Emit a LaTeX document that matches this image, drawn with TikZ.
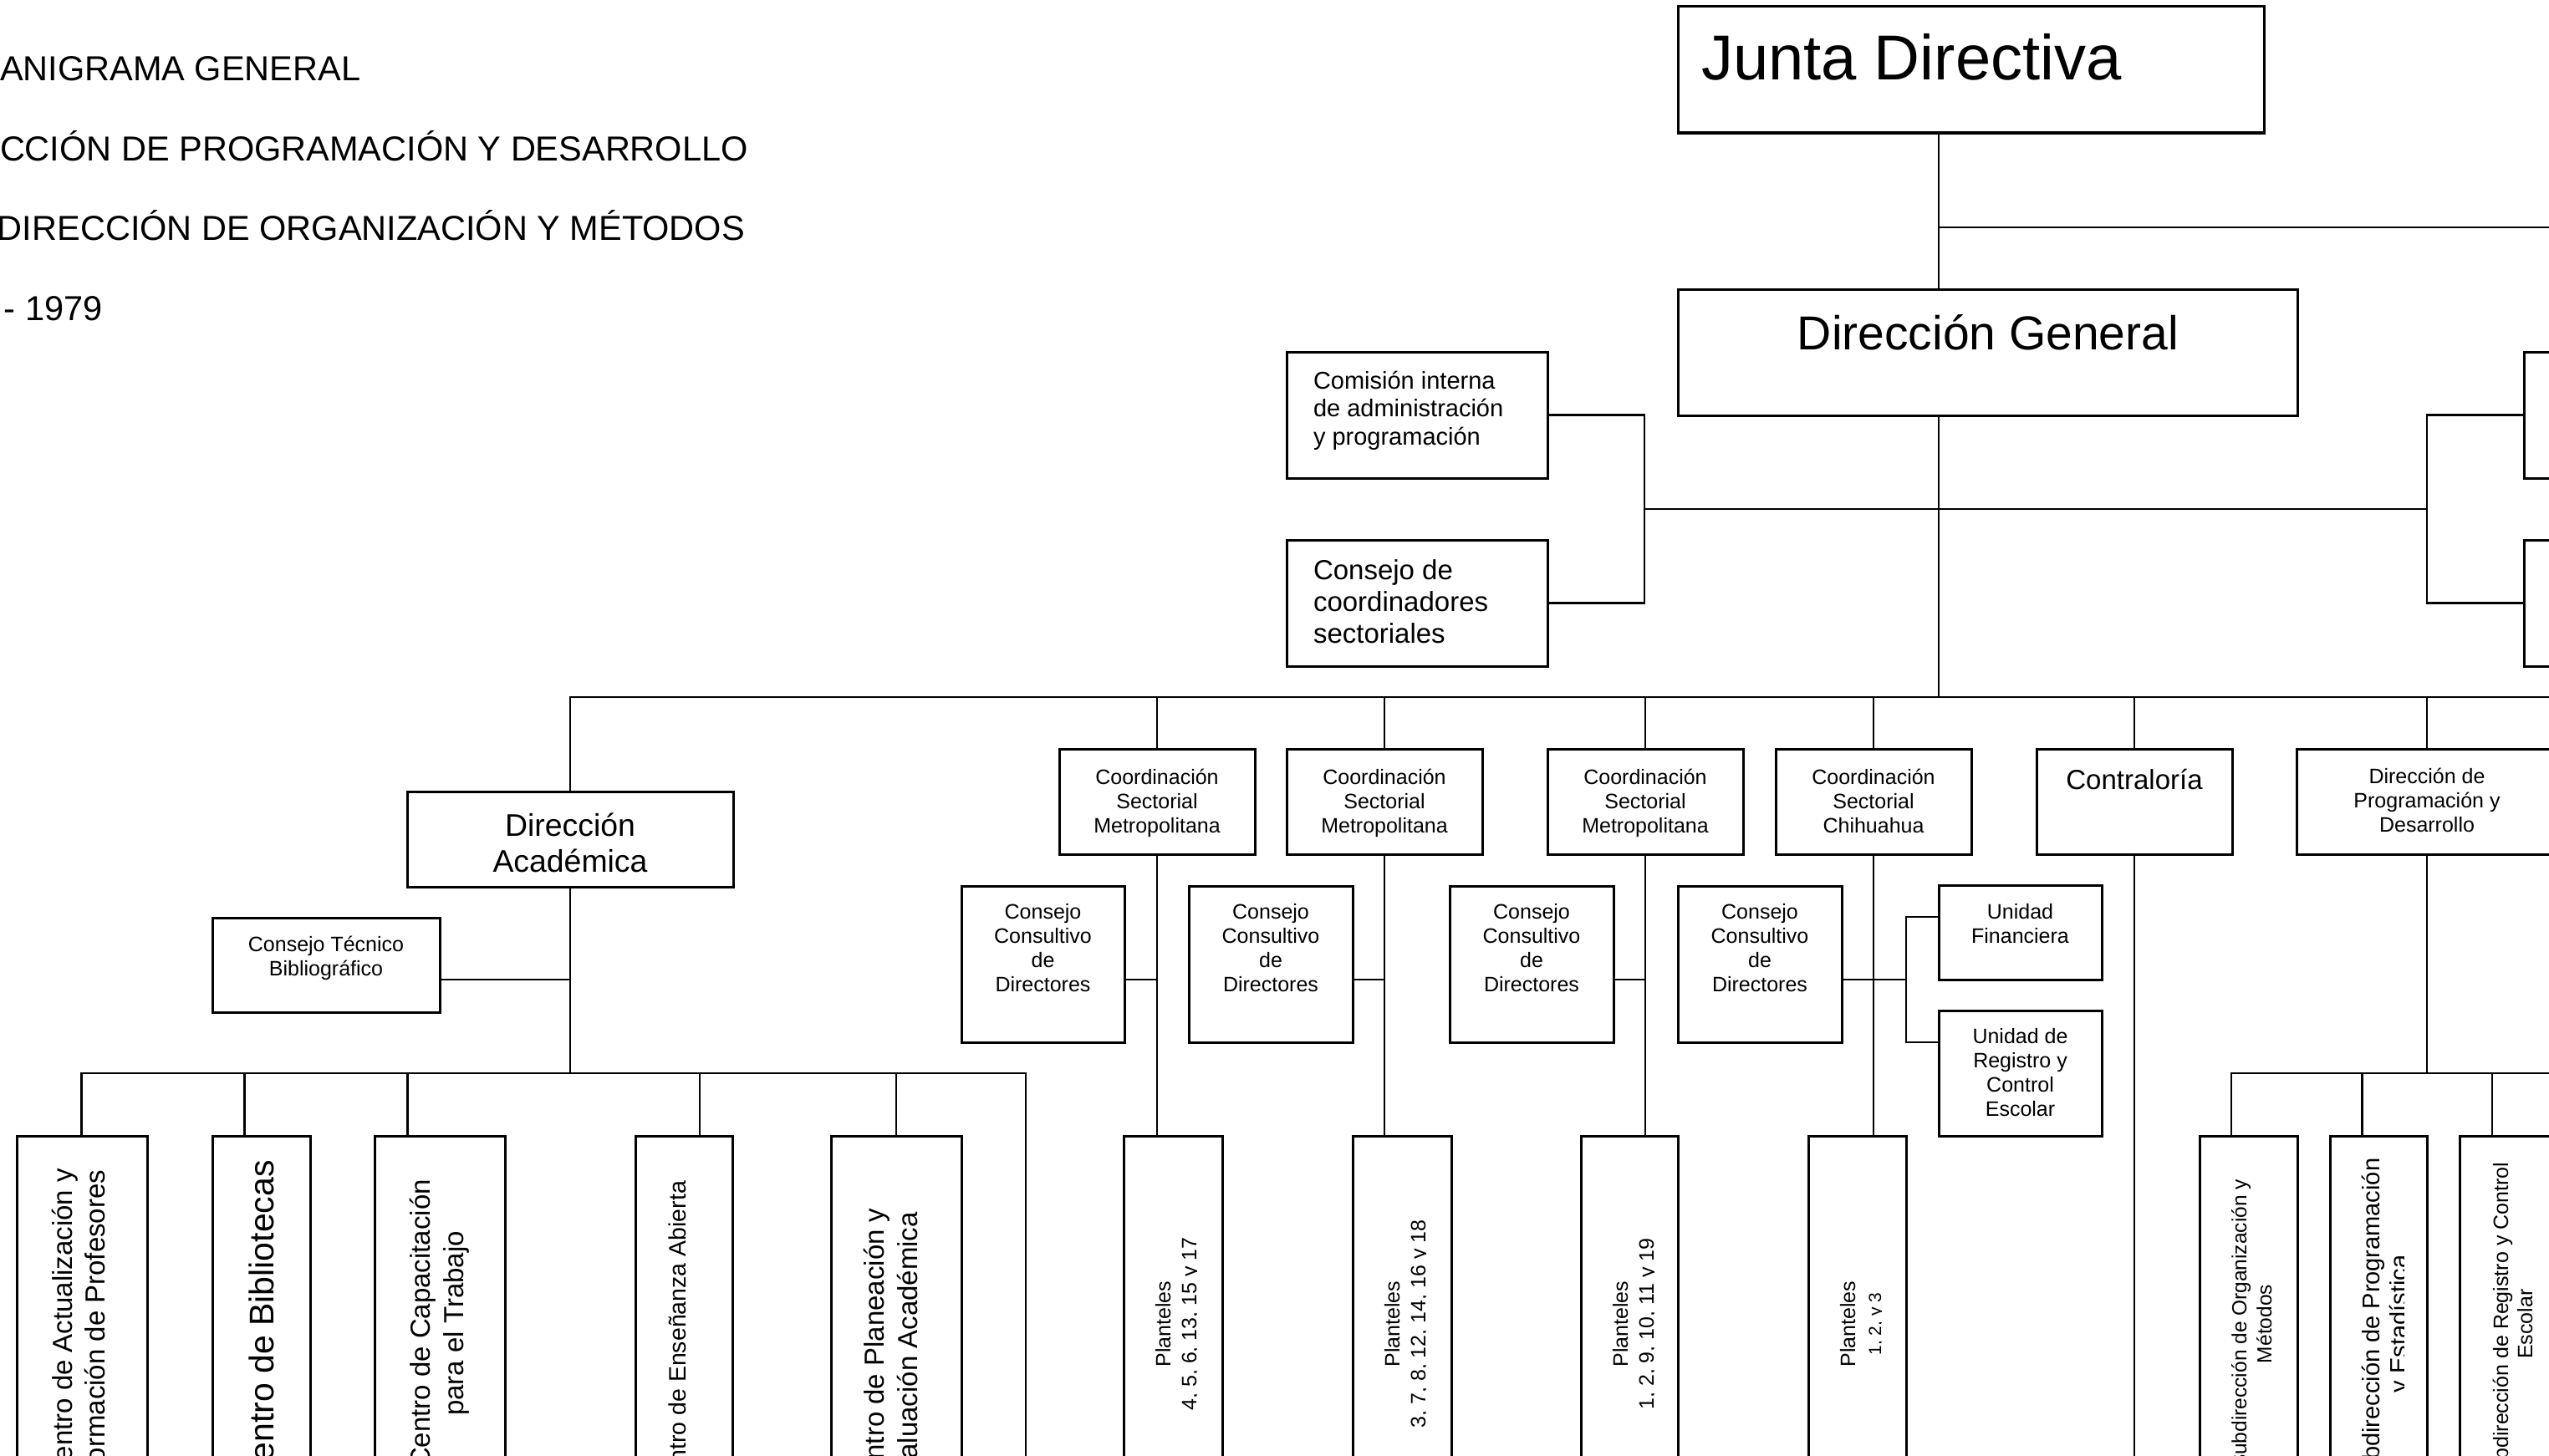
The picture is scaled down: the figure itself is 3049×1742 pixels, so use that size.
\documentclass[tikz,border=0pt]{standalone}
\usepackage{fontspec}
\setmainfont{Liberation Sans}
\usetikzlibrary{calc}
% font size / baseline skip in one go
\newcommand\fsz[2]{\fontsize{#1}{#2}\selectfont}
% centred and left-aligned line stacks whose baseline is the first line's
\newcommand\cstack[1]{\vtop{\halign{\hfil##\hfil\cr#1\crcr}}}
\newcommand\lstack[1]{\vtop{\halign{##\hfil\cr#1\crcr}}}
% \orgbox{name}{x1}{y1}{x2}{y2}: an empty framed box between two corners
\newcommand\orgbox[5]{\node[box, minimum width={#4-#2}, minimum height={#5-#3}] (#1) at ({(#2+#4)/2},{(#3+#5)/2}) {};}

\begin{document}
\begin{tikzpicture}[x=1pt,y=-1pt,
  box/.style={draw, line width=3pt, inner sep=0pt, outer sep=0pt},
  conn/.style={line width=2.7pt, line cap=rect},
  tx/.style={inner sep=0pt, outer sep=0pt},
  vtx/.style={tx, rotate=90, anchor=base},
]
\useasboundingbox (0,0) rectangle (3049,1742);
\clip (0,0) rectangle (3049,1742);
\fill[white] (0,0) rectangle (3049,1742);

% ---------- heading ----------
\node[tx, anchor=base west, font=\fsz{41.5}{48}] (h1) at (0,97) {ANIGRAMA GENERAL};
\node[tx, anchor=base west, font=\fsz{41.5}{48}] (h2) at (0,192) {CCIÓN DE PROGRAMACIÓN Y DESARROLLO};
\node[tx, anchor=base west, font=\fsz{41.5}{48}] (h3) at (-3,287) {DIRECCIÓN DE ORGANIZACIÓN Y MÉTODOS};
\node[tx, anchor=base west, font=\fsz{41.5}{48}] (h4) at (5,383) {- 1979};

% ---------- boxes ----------
\orgbox{jd}{2007}{8}{2708}{159}
\orgbox{dg}{2007}{346}{2748}{497}
\orgbox{cia}{1539}{421}{1851}{572}
\orgbox{ccs}{1539}{646}{1851}{797}
\orgbox{rt1}{3019}{421}{3250}{572}
\orgbox{rt2}{3019}{646}{3250}{797}

\orgbox{da}{487}{947}{877}{1061}
\orgbox{ctb}{254}{1098}{526}{1211}
\orgbox{cs1}{1267}{896}{1501}{1022}
\orgbox{cs2}{1539}{896}{1773}{1022}
\orgbox{cs3}{1851}{896}{2085}{1022}
\orgbox{cs4}{2124}{896}{2358}{1022}
\orgbox{ctr}{2436}{896}{2670}{1022}
\orgbox{dpd}{2747}{896}{3059}{1022}
\orgbox{cc1}{1150}{1060}{1345}{1247}
\orgbox{cc2}{1422}{1060}{1618}{1247}
\orgbox{cc3}{1734}{1060}{1930}{1247}
\orgbox{cc4}{2007}{1060}{2203}{1247}
\orgbox{uf}{2319}{1059}{2514}{1172}
\orgbox{urc}{2319}{1209}{2514}{1359}

\orgbox{b1}{20}{1359}{176}{1809}
\orgbox{b2}{254}{1359}{371}{1809}
\orgbox{b3}{448}{1359}{604}{1809}
\orgbox{b4}{760}{1359}{876}{1809}
\orgbox{b5}{994}{1359}{1150}{1809}
\orgbox{p1}{1344}{1359}{1462}{1809}
\orgbox{p2}{1618}{1359}{1736}{1809}
\orgbox{p3}{1891}{1359}{2007}{1809}
\orgbox{p4}{2163}{1359}{2280}{1809}
\orgbox{s1}{2631}{1359}{2748}{1809}
\orgbox{s2}{2787}{1359}{2903}{1809}
\orgbox{s3}{2942}{1359}{3059}{1809}

% ---------- reference lines ----------
\coordinate (sp) at (2319,0);
\coordinate (lbx) at (1967,0);
\coordinate (rbx) at (2903,0);
\coordinate (mid) at (0,609);
\coordinate (jh) at (2319,272);
\coordinate (jR) at (3060,272);
\coordinate (bus) at (0,834);
\coordinate (busR) at (3060,834);
\coordinate (stub) at (0,1172);
\coordinate (ub) at (2280,0);
\coordinate (u1) at (0,1097);
\coordinate (u2) at (0,1247);
\coordinate (bottom) at (0,1760);
\coordinate (bd1) at (97.8,1284);
\coordinate (bd2) at (292.6,1284);
\coordinate (bd3) at (487.5,1284);
\coordinate (bd4) at (837,1284);
\coordinate (bd5) at (1072,1284);
\coordinate (bd6) at (1227,1284);
\coordinate (sd1) at (2669,1284);
\coordinate (sd2) at (2825.5,1284);
\coordinate (sd3) at (2981,1284);
\coordinate (sdR) at (3060,1284);

% ---------- connectors ----------
\draw[conn] (jd.south -| sp) -- (dg.north -| sp);
\draw[conn] (jh) -- (jR);
\draw[conn] (dg.south -| sp) -- (bus -| sp);
\draw[conn] (cia.east) -- (cia.east -| lbx) -- (ccs.east -| lbx) -- (ccs.east);
\draw[conn] (lbx |- mid) -- (rbx |- mid);
\draw[conn] (rt1.west) -- (rt1.west -| rbx) -- (rt2.west -| rbx) -- (rt2.west);

\draw[conn] (da.north) -- (da.north |- bus) -- (busR);
\foreach \n in {cs1,cs2,cs3,cs4,ctr,dpd}
  \draw[conn] (\n.north |- bus) -- (\n.north);

\draw[conn] (cs1.south) -- (cs1.south |- p1.north);
\draw[conn] (cs2.south) -- (cs2.south |- p2.north);
\draw[conn] (cs3.south) -- (cs3.south |- p3.north);
\draw[conn] (cs4.south) -- (cs4.south |- p4.north);
\draw[conn] (cc1.east |- stub) -- (cs1.south |- stub);
\draw[conn] (cc2.east |- stub) -- (cs2.south |- stub);
\draw[conn] (cc3.east |- stub) -- (cs3.south |- stub);
\draw[conn] (cc4.east |- stub) -- (ub |- stub);
\draw[conn] (uf.west |- u1) -- (ub |- u1) -- (ub |- u2) -- (urc.west |- u2);

\draw[conn] (ctr.south) -- (ctr.south |- bottom);

\draw[conn] (dpd.south) -- (dpd.south |- sd1);
\draw[conn] (sd1) -- (sdR);
\draw[conn] (sd1) -- (sd1 |- s1.north);
\draw[conn] (sd2) -- (sd2 |- s2.north);
\draw[conn] (sd3) -- (sd3 |- s3.north);

\draw[conn] (da.south) -- (da.south |- bd1);
\draw[conn] (ctb.east |- stub) -- (da.south |- stub);
\draw[conn] (bd1) -- (bd6);
\draw[conn] (bd1) -- (bd1 |- b1.north);
\draw[conn] (bd2) -- (bd2 |- b2.north);
\draw[conn] (bd3) -- (bd3 |- b3.north);
\draw[conn] (bd4) -- (bd4 |- b4.north);
\draw[conn] (bd5) -- (bd5 |- b5.north);
\draw[conn] (bd6) -- (bd6 |- bottom);

% ---------- upright labels ----------
\node[tx, anchor=base west, font=\fsz{76}{87}] (tjd) at (2035,96) {Junta Directiva};
\node[tx, anchor=base, font=\fsz{57}{66}] (tdg) at (2378,418) {Dirección General};
\node[tx, anchor=base west, font=\fsz{29}{33.5}] (tcia) at (1571,465)
  {\lstack{Comisión interna\cr de administración\cr y programación}};
\node[tx, anchor=base west, font=\fsz{33}{38}] (tccs) at (1571,693)
  {\lstack{Consejo de\cr coordinadores\cr sectoriales}};
\node[tx, anchor=base, font=\fsz{37.4}{43.5}] (tda) at (682,1000)
  {\cstack{Dirección\cr Académica}};
\node[tx, anchor=base, font=\fsz{25}{29.3}] (tctb) at (390,1138.5)
  {\cstack{Consejo Técnico\cr Bibliográfico}};
\node[tx, anchor=base, font=\fsz{25}{29}] (tcs1) at (cs1.north |- 0,938)
  {\cstack{Coordinación\cr Sectorial\cr Metropolitana}};
\node[tx, anchor=base, font=\fsz{25}{29}] (tcs2) at (cs2.north |- 0,938)
  {\cstack{Coordinación\cr Sectorial\cr Metropolitana}};
\node[tx, anchor=base, font=\fsz{25}{29}] (tcs3) at (cs3.north |- 0,938)
  {\cstack{Coordinación\cr Sectorial\cr Metropolitana}};
\node[tx, anchor=base, font=\fsz{25}{29}] (tcs4) at (cs4.north |- 0,938)
  {\cstack{Coordinación\cr Sectorial\cr Chihuahua}};
\node[tx, anchor=base, font=\fsz{33}{38}] (tctr) at (ctr.north |- 0,944.5) {Contraloría};
\node[tx, anchor=base, font=\fsz{25}{29}] (tdpd) at (dpd.north |- 0,937.5)
  {\cstack{Dirección de\cr Programación y\cr Desarrollo}};
\node[tx, anchor=base, font=\fsz{25}{29}] (tcc1) at (cc1.north |- 0,1099)
  {\cstack{Consejo\cr Consultivo\cr de\cr Directores}};
\node[tx, anchor=base, font=\fsz{25}{29}] (tcc2) at (cc2.north |- 0,1099)
  {\cstack{Consejo\cr Consultivo\cr de\cr Directores}};
\node[tx, anchor=base, font=\fsz{25}{29}] (tcc3) at (cc3.north |- 0,1099)
  {\cstack{Consejo\cr Consultivo\cr de\cr Directores}};
\node[tx, anchor=base, font=\fsz{25}{29}] (tcc4) at (cc4.north |- 0,1099)
  {\cstack{Consejo\cr Consultivo\cr de\cr Directores}};
\node[tx, anchor=base, font=\fsz{25}{29.5}] (tuf) at (uf.north |- 0,1099)
  {\cstack{Unidad\cr Financiera}};
\node[tx, anchor=base, font=\fsz{25}{29.2}] (turc) at (urc.north |- 0,1248)
  {\cstack{Unidad de\cr Registro y\cr Control\cr Escolar}};

% ---------- vertical labels ----------
\node[vtx, font=\fsz{33}{39}] (tb1) at (86,1585)
  {\cstack{Centro de Actualización y\cr Formación de Profesores}};
\node[vtx, font=\fsz{41}{47}] (tb2) at (327,1583) {\cstack{Centro de Bibliotecas}};
\node[vtx, font=\fsz{33}{40}] (tb3) at (514,1583.5)
  {\cstack{Centro de Capacitación\cr para el Trabajo}};
\node[vtx, font=\fsz{28.5}{33}] (tb4) at (820,1600) {\cstack{Centro de Enseñanza Abierta}};
\node[vtx, font=\fsz{33}{40}] (tb5) at (1057,1617)
  {\cstack{Centro de Planeación y\cr Evaluación Académica}};

\begin{scope}
  \clip (1344,1359) rectangle (1431.6,1809);
  \node[vtx, font=\fsz{25}{31}] (tp1) at (1400,1584) {\cstack{Planteles\cr 4, 5, 6, 13, 15 y 17}};
\end{scope}
\begin{scope}
  \clip (1618,1359) rectangle (1705.6,1809);
  \node[vtx, font=\fsz{25}{31}] (tp2) at (1674,1584) {\cstack{Planteles\cr 3, 7, 8, 12, 14, 16 y 18}};
\end{scope}
\begin{scope}
  \clip (1891,1359) rectangle (1978.6,1809);
  \node[vtx, font=\fsz{25}{31}] (tp3) at (1947,1584) {\cstack{Planteles\cr 1, 2, 9, 10, 11 y 19}};
\end{scope}
\begin{scope}
  \clip (2163,1359) rectangle (2250.6,1809);
  \node[vtx, font=\fsz{25}{31}] (tp4) at (2219,1584) {\cstack{Planteles\cr {\fsz{21}{31}1, 2, y 3}}};
\end{scope}

\node[vtx, font=\fsz{24.5}{30}] (ts1) at (2687,1584)
  {\cstack{Subdirección de Organización y\cr Métodos}};
\begin{scope}
  \clip (2787,1359) rectangle (2875,1809);
  \node[vtx, font=\fsz{29}{33}] (ts2) at (2846,1584)
    {\cstack{Subdirección de Programación\cr y Estadística}};
\end{scope}
\node[vtx, font=\fsz{25}{29}] (ts3) at (3000,1584)
  {\cstack{Subdirección de Registro y Control\cr Escolar}};
\end{tikzpicture}
\end{document}
